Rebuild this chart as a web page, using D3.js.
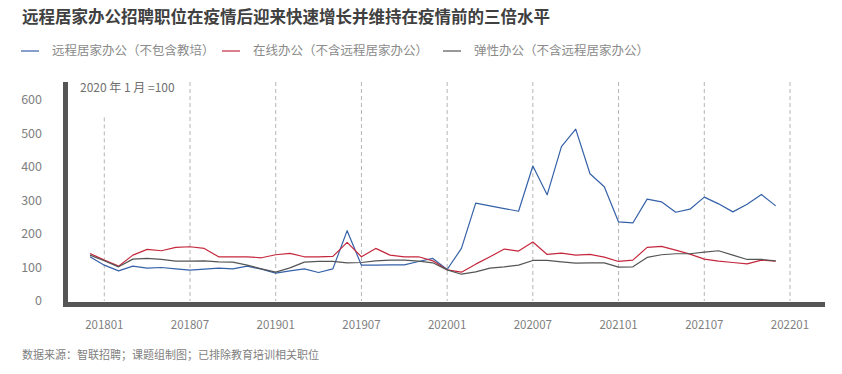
<!DOCTYPE html>
<html>
<head>
<meta charset="utf-8">
<script src="https://cdn.jsdelivr.net/npm/d3@7"></script>
<style>
  html, body { margin: 0; padding: 0; background: #fff; }
  svg text { font-family: "Noto Sans CJK SC", "Noto Sans", sans-serif; }
</style>
</head>
<body>
<div class="chart-container"></div>
<script>
// months 201712 .. 202112
const months = [
  '201712',
  '201801', '201802', '201803', '201804', '201805', '201806', '201807', '201808', '201809', '201810', '201811', '201812',
  '201901', '201902', '201903', '201904', '201905', '201906', '201907', '201908', '201909', '201910', '201911', '201912',
  '202001', '202002', '202003', '202004', '202005', '202006', '202007', '202008', '202009', '202010', '202011', '202012',
  '202101', '202102', '202103', '202104', '202105', '202106', '202107', '202108', '202109', '202110', '202111', '202112'
];

const remoteValues = [
  132,
  107, 90, 104, 98, 100, 96, 92, 95, 98, 96, 104, 95,
  83, 90, 96, 85, 96, 210, 107, 107, 108, 108, 118, 127,
  94, 157, 292, 284, 276, 268, 403, 317, 461, 513, 380, 341,
  236, 233, 304, 296, 265, 274, 310, 290, 266, 289, 318, 284
];

const onlineValues = [
  142,
  122, 104, 137, 154, 150, 160, 162, 157, 132, 132, 132, 129,
  138, 142, 132, 132, 133, 175, 132, 157, 137, 132, 132, 120,
  93, 86, 110, 132, 155, 149, 176, 139, 143, 137, 139, 131,
  118, 122, 160, 163, 152, 140, 125, 119, 115, 111, 122, 119
];

const flexValues = [
  137,
  120, 102, 125, 127, 124, 119, 119, 120, 117, 116, 107, 96,
  86, 99, 116, 118, 118, 114, 115, 120, 122, 122, 119, 114,
  93, 80, 87, 98, 102, 107, 121, 121, 117, 113, 114, 114,
  101, 102, 130, 138, 141, 141, 146, 150, 137, 124, 124, 120
];

const tickLabels = ['201801', '201807', '201901', '201907', '202001', '202007', '202101', '202107', '202201'];
const yTicks = [0, 100, 200, 300, 400, 500, 600];

const seriesNames = ['远程居家办公（不包含教培）', '在线办公（不含远程居家办公）', '弹性办公（不含远程居家办公）'];
const seriesColors = ['#3461a8', '#c5283d', '#555555'];

const width = 842;
const height = 374;

const svg = d3.select('.chart-container')
  .append('svg')
  .attr('width', width)
  .attr('height', height);

// scales: month index -> x, index value -> y
const allMonths = months.concat(['202201']);
const x = d3.scaleLinear()
  .domain([0, allMonths.length - 1])
  .range([90, 790]);

const y = d3.scaleLinear()
  .domain([0, 600])
  .range([301, 100]);

// title
svg.append('text')
  .attr('x', 22)
  .attr('y', 23)
  .attr('font-size', 16.5)
  .attr('font-weight', 'bold')
  .attr('fill', '#404040')
  .text('远程居家办公招聘职位在疫情后迎来快速增长并维持在疫情前的三倍水平');

// legend
const legendX = [21, 222, 443];
const legend = svg.selectAll('.legend')
  .data(seriesNames)
  .enter()
  .append('g')
  .attr('class', 'legend')
  .attr('transform', (d, i) => `translate(${legendX[i]}, 51)`);

legend.append('line')
  .attr('x1', 0)
  .attr('x2', 18)
  .attr('stroke', (d, i) => seriesColors[i])
  .attr('stroke-width', 1.2);

legend.append('text')
  .attr('x', 31)
  .attr('dy', '0.35em')
  .attr('font-size', 12.5)
  .attr('fill', '#8a8a8a')
  .text(d => d);

// dashed grid lines at the labelled months
const tickIdx = tickLabels.map(t => allMonths.indexOf(t));
svg.append('g')
  .selectAll('line')
  .data(tickIdx)
  .enter()
  .append('line')
  .attr('x1', d => x(d))
  .attr('x2', d => x(d))
  .attr('y1', (d, i) => i === 0 ? y(548) : 82)
  .attr('y2', y(0))
  .attr('stroke', '#b5b5b5')
  .attr('stroke-width', 1)
  .attr('stroke-dasharray', '4,3');

// y labels
svg.append('g')
  .selectAll('text')
  .data(yTicks)
  .enter()
  .append('text')
  .attr('x', 42)
  .attr('y', d => y(d))
  .attr('dy', '0.35em')
  .attr('text-anchor', 'end')
  .attr('font-size', 12.5)
  .attr('fill', '#808080')
  .text(d => d);

// x labels
svg.append('g')
  .selectAll('text')
  .data(tickLabels)
  .enter()
  .append('text')
  .attr('x', d => x(allMonths.indexOf(d)))
  .attr('y', 329)
  .attr('text-anchor', 'middle')
  .attr('font-size', 11.5)
  .attr('fill', '#808080')
  .text(d => d);

// annotation
svg.append('text')
  .attr('x', 80)
  .attr('y', 92)
  .attr('font-size', 12)
  .attr('fill', '#707070')
  .text('2020 年 1 月 =100');

// the lines
const line = d3.line()
  .x((d, i) => x(i))
  .y(d => y(d));

[remoteValues, onlineValues, flexValues].forEach((values, k) => {
  svg.append('path')
    .datum(values)
    .attr('fill', 'none')
    .attr('stroke', seriesColors[k])
    .attr('stroke-width', 1.2)
    .attr('stroke-linejoin', 'round')
    .attr('d', line);
});

// thick axis bars
svg.append('rect')
  .attr('x', 63)
  .attr('y', 82)
  .attr('width', 5)
  .attr('height', y(0) + 6 - 82)
  .attr('fill', '#555');

svg.append('rect')
  .attr('x', 63)
  .attr('y', y(0) + 1)
  .attr('width', 825 - 63)
  .attr('height', 5)
  .attr('fill', '#555');

// source
svg.append('text')
  .attr('x', 22)
  .attr('y', 359)
  .attr('font-size', 11)
  .attr('fill', '#808080')
  .text('数据来源：智联招聘；课题组制图；已排除教育培训相关职位');
</script>
</body>
</html>
